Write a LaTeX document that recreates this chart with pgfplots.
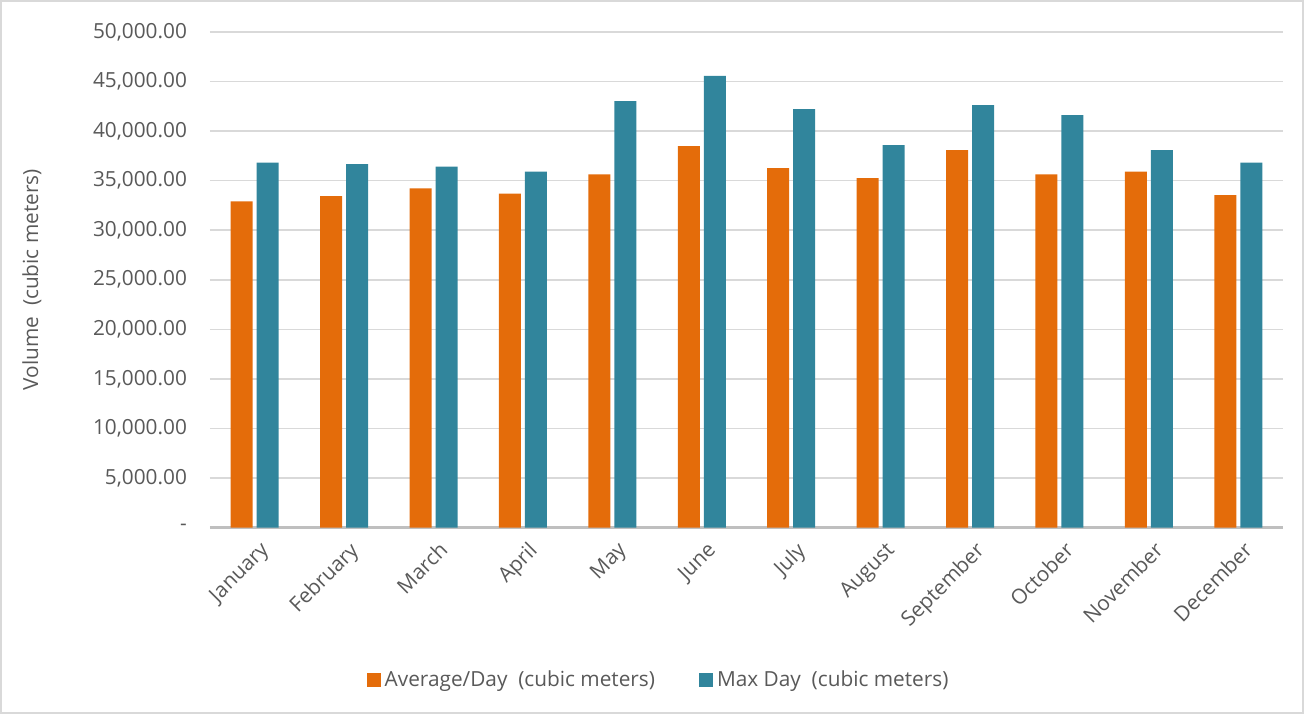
\documentclass[border=0pt]{standalone}
\usepackage{fontspec}
\setmainfont{Open Sans}
\usepackage{pgfplots}
\pgfplotsset{compat=1.18}
\definecolor{avgorange}{HTML}{E46C0A}
\definecolor{maxteal}{HTML}{31859C}
\definecolor{txtgray}{HTML}{595959}
\definecolor{gridgray}{HTML}{D9D9D9}
\definecolor{axisgray}{HTML}{BFBFBF}
\newcommand\chartfont{\fontsize{10.4pt}{12pt}\selectfont}

\begin{document}
\begin{tikzpicture}
  % chart area border
  \draw[gridgray,line width=1pt] (0.5pt,0.5pt) rectangle (651.5pt,356.5pt);
  \begin{axis}[
    at={(105pt,93.25pt)},anchor=south west,
    scale only axis,width=536.5pt,height=247.75pt,
    ybar=2pt,bar width=11pt,
    xmin=-0.5,xmax=11.5,ymin=0,ymax=50000,
    scaled y ticks=false,
    axis x line*=bottom,axis y line*=left,
    y axis line style={draw=none},
    x axis line style={axisgray,line width=1.2pt},
    major tick length=0pt,
    xtick={0,...,11},
    xticklabels={January,February,March,April,May,June,July,August,September,October,November,December},
    ytick={0,5000,...,50000},
    yticklabels={-,{5,000.00},{10,000.00},{15,000.00},{20,000.00},{25,000.00},{30,000.00},{35,000.00},{40,000.00},{45,000.00},{50,000.00}},
    ymajorgrids,grid style={gridgray,line width=0.8pt},
    xticklabel style={font=\chartfont,text=txtgray,rotate=45,anchor=north east,inner sep=1pt,yshift=-5pt,xshift=-2pt},
    yticklabel style={font=\chartfont,text=txtgray,anchor=east,xshift=-8pt},
    ylabel={Volume\ \ (cubic meters)},
    every axis y label/.style={at={(axis description cs:-0.166,0.5)},rotate=90,anchor=center,font=\chartfont,text=txtgray},
    legend style={at={(axis description cs:0.419,-0.307)},anchor=center,draw=none,
      font=\chartfont,text=txtgray,legend columns=2,
      /tikz/every even column/.append style={column sep=20pt}},
    legend image code/.code={\fill[#1] (0pt,-3.5pt) rectangle (7pt,3.5pt);},
  ]
  \addplot[fill=avgorange,draw=none] coordinates {
    (0,32900) (1,33450) (2,34220) (3,33690) (4,35630) (5,38490)
    (6,36270) (7,35260) (8,38080) (9,35630) (10,35900) (11,33550)};
  \addplot[fill=maxteal,draw=none] coordinates {
    (0,36810) (1,36670) (2,36410) (3,35900) (4,43020) (5,45580)
    (6,42220) (7,38590) (8,42620) (9,41610) (10,38080) (11,36810)};
  \legend{Average/Day\ \ (cubic meters),Max Day\ \ (cubic meters)}
  \end{axis}
\end{tikzpicture}
\end{document}
